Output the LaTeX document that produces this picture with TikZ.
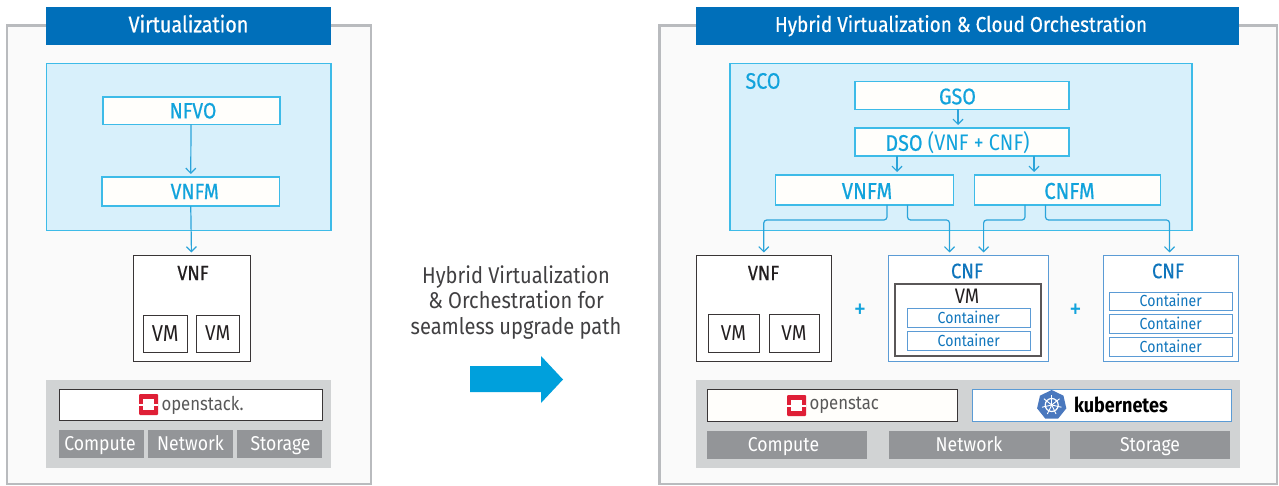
\documentclass[tikz,border=0pt]{standalone}
\usepackage{fontspec}
\setmainfont[FakeStretch=0.88]{Fira Sans}
\usetikzlibrary{arrows.meta,calc}
\definecolor{hdr}{HTML}{006FBA}
\definecolor{sky}{HTML}{D8F0FB}
\definecolor{skyline}{HTML}{3DBBE8}
\definecolor{cyantxt}{HTML}{12A3DC}
\definecolor{bluetxt}{HTML}{0F75BC}
\definecolor{blueline}{HTML}{5B9BD5}
\definecolor{panel}{HTML}{FAFAFA}
\definecolor{panelline}{HTML}{B9BBBE}
\definecolor{stack}{HTML}{D1D3D4}
\definecolor{btn}{HTML}{939598}
\definecolor{ink}{HTML}{231F20}
\definecolor{paper}{HTML}{FFFEFB}
\definecolor{osred}{HTML}{DF1F36}
\definecolor{k8s}{HTML}{4A78BE}
\definecolor{midtxt}{HTML}{414042}
\definecolor{bigarrow}{HTML}{00A0DC}
\newcommand\fsz[1]{\fontsize{#1}{#1}\selectfont}
\newcommand\rbox[7]{\node[base,#2,minimum width={(#5-#3)*1pt},minimum height={(#6-#4)*1pt}] (#1) at ({(#3+#5)/2},{(#4+#6)/2}) {\rule{0pt}{.69em}\smash{#7}};}
\newcommand\oslogo[3]{\begin{scope}[shift={(#2,#3)}]
 \node[base,fill=osred,rounded corners=1pt,minimum width=19pt,minimum height=21pt] (#1) at (9.5,10.5) {};
 \fill[white] (4,4.5) rectangle (15,16);
 \fill[white] (0,9.5) rectangle (4,11.5);
 \fill[white] (15,9.5) rectangle (19,11.5);
\end{scope}}
\tikzset{
 base/.style={draw=none,inner sep=0pt,outer sep=0pt,align=center},
 panelbox/.style={fill=panel,draw=panelline,line width=2.2pt},
 header/.style={fill=hdr,text=white,font=\fsz{22.5}\addfontfeature{FakeBold=0.6}},
 orch/.style={fill=sky,draw=skyline,line width=1.1pt},
 func/.style={fill=paper,draw=skyline,line width=1.2pt,text=cyantxt,font=\fsz{22}\addfontfeature{FakeBold=0.6}},
 blackbox/.style={fill=white,draw=ink!90,line width=.9pt,text=ink},
 bluebox/.style={fill=white,draw=blueline,line width=1pt,text=bluetxt},
 contbox/.style={bluebox,font=\fsz{16}},
 stackbg/.style={fill=stack},
 gbtn/.style={fill=btn,text=white,font=\fsz{20}},
 lbl/.style={inner sep=0pt,outer sep=0pt},
 link/.style={draw=skyline!70!hdr,line width=1.2pt,-{Straight Barb[length=5pt,width=10pt]},shorten >=3pt,rounded corners=3pt},
}
\begin{document}
\begin{tikzpicture}[x=1pt,y=-1pt]
\useasboundingbox (0,0) rectangle (1279,486);
\fill[white] (0,0) rectangle (1279,486);
% left panel
\rbox{leftp}{panelbox}{7}{25.5}{371}{484}{}
\rbox{lefth}{header}{46}{7}{331}{45}{\raisebox{1.5pt}{Virtualization}}
\rbox{lefto}{orch}{46.5}{63.5}{331}{230.5}{}
\rbox{nfvo}{func}{103}{97}{280}{124.5}{\kern3pt NFVO}
\rbox{lvnfm}{func}{102}{177}{279.5}{206}{\kern8pt VNFM}
\draw[link] ([xshift=-.5pt]nfvo.south) -- (lvnfm.north);
\rbox{lvnf}{blackbox}{133}{255.5}{250}{361.5}{}
\node[lbl,text=ink,font=\fsz{20.5}\addfontfeature{FakeBold=0.5}] (lvnft) at (193,273) {VNF};
\draw[link] (lvnfm.south) -- (lvnf.north);
\rbox{lvm1}{blackbox,font=\fsz{23}}{143.5}{315}{187}{352}{VM}
\rbox{lvm2}{blackbox,font=\fsz{21.5}}{196}{315}{239.5}{352}{VM}
\rbox{lstack}{stackbg}{46}{380}{331}{468}{}
\rbox{los}{blackbox}{59}{389}{322}{420.5}{}
\oslogo{loslogo}{139}{394}
\node[lbl,anchor=west,text=black!65,font=\fsz{19}] (lost) at (161.5,405) {openstack.};
\rbox{lb1}{gbtn}{59}{430}{144}{458}{\kern-3pt Compute}
\rbox{lb2}{gbtn}{148}{430}{233}{458}{Network}
\rbox{lb3}{gbtn}{237}{430}{322}{458}{\kern2pt Storage}
% middle
\node[lbl,align=center,text=midtxt,font=\fontsize{22.8}{25.5}\selectfont] (mid) at (516,302.5) {Hybrid Virtualization\\\& Orchestration for\\seamless upgrade path};
\fill[bigarrow] (470,366) -- (541,366) -- (541,356) -- (563,379.5) -- (541,403) -- (541,392) -- (470,392) -- cycle;
% right panel
\rbox{rightp}{panelbox}{659.5}{25.5}{1277}{484}{}
\rbox{righth}{header,font=\fsz{21.5}\addfontfeature{FakeBold=0.6}}{696}{7}{1239}{45}{\raisebox{1.5pt}{\kern-13pt Hybrid Virtualization \& Cloud Orchestration}}
\rbox{sco}{orch}{730}{63.5}{1192}{230.5}{}
\node[lbl,text=cyantxt,font=\fsz{22.4}\addfontfeature{FakeBold=0.4}] (scot) at (763,81) {SCO};
\rbox{gso}{func,font=\fsz{22.5}\addfontfeature{FakeBold=0.6}}{855}{81.5}{1069}{109.5}{\raisebox{-1pt}{\kern-9pt GSO}}
\rbox{dso}{func,font=\fsz{22.5}\addfontfeature{FakeBold=0.6}}{855}{128}{1069}{156}{\raisebox{-1pt}{\kern-9pt DSO {\addfontfeature{FakeBold=0}(VNF + CNF)}}}
\rbox{rvnfm}{func,font=\fsz{23}\addfontfeature{FakeBold=0.6}}{775.5}{175}{953.5}{205}{\raisebox{-1pt}{\kern5pt VNFM}}
\rbox{cnfm}{func,font=\fsz{23}\addfontfeature{FakeBold=0.6}}{974.5}{175}{1160.5}{205}{\raisebox{-1pt}{\kern4pt CNFM}}
\draw[link] ([xshift=-4pt]gso.south) -- ([xshift=-4pt]dso.north);
\draw[link] ([xshift=-65pt]dso.south) -- ([xshift=32.5pt]rvnfm.north);
\draw[link] ([xshift=72pt]dso.south) -- ([xshift=-33.5pt]cnfm.north);
% lower boxes
\rbox{rvnf}{blackbox}{696}{255.5}{831.5}{361.5}{}
\node[lbl,text=ink,font=\fsz{20.5}\addfontfeature{FakeBold=0.5}] (rvnft) at (763.5,273) {VNF};
\rbox{rvm1}{blackbox,font=\fsz{21.5}}{708}{314.5}{759}{352.5}{VM}
\rbox{rvm2}{blackbox,font=\fsz{21.5}}{769}{314.5}{819}{352.5}{VM}
\rbox{cnfa}{bluebox}{888}{255.5}{1048.5}{361.5}{}
\node[lbl,text=bluetxt,font=\fsz{21}\addfontfeature{FakeBold=0.4}] (cnfat) at (967,271) {CNF};
\rbox{vmin}{blackbox,draw=ink!75,line width=1.2pt}{895}{284}{1041}{356}{}
\node[lbl,text=ink,font=\fsz{21}] (vmint) at (967,296) {VM};
\rbox{c1}{contbox}{907.5}{308.5}{1030}{327}{Container}
\rbox{c2}{contbox}{907.5}{331.5}{1030}{350}{Container}
\rbox{cnfb}{bluebox}{1103}{255.5}{1238}{361.5}{}
\node[lbl,text=bluetxt,font=\fsz{21}\addfontfeature{FakeBold=0.4}] (cnfbt) at (1168,271) {CNF};
\rbox{c3}{contbox}{1109.5}{292}{1232}{310.5}{Container}
\rbox{c4}{contbox}{1109.5}{314.5}{1232}{333}{Container}
\rbox{c5}{contbox}{1109.5}{337.5}{1232}{356}{Container}
\node[lbl,text=cyantxt,font=\fsz{28}] (plus1) at (860,311) {+};
\node[lbl,text=cyantxt,font=\fsz{28}] (plus2) at (1075.5,311) {+};
% orchestration links
\draw[link] ([xshift=22.5pt]rvnfm.south) -- ++(0,15) -| (rvnf.north);
\draw[link] ([xshift=43pt]rvnfm.south) -- ++(0,15) -| ([xshift=-18.75pt]cnfa.north);
\draw[link] ([xshift=-42.5pt]cnfm.south) -- ++(0,15) -| ([xshift=15.35pt]cnfa.north);
\draw[link] ([xshift=-22pt]cnfm.south) -- ++(0,15) -| ([xshift=-1pt]cnfb.north);
% stack
\rbox{rstack}{stackbg}{696}{380}{1240}{468}{}
\rbox{ros}{blackbox,fill=paper}{707}{389}{957.5}{421}{}
\oslogo{roslogo}{787}{395}
\node[lbl,anchor=west,text=black!65,font=\fsz{19}] (rost) at (809.5,405.5) {openstac};
\rbox{rk8s}{bluebox}{972.5}{389}{1231}{421}{}
\fill[k8s] (1051.7,390) \foreach \a in {1,...,6} { -- ($(1051.7,405)+({270+\a*360/7}:15)$) } -- cycle;
\draw[white,line width=1.2pt] (1051.7,405) circle (6.5);
\foreach \a in {0,...,6} { \draw[white,line width=.9pt] (1051.7,405) -- ++({270+\a*360/7}:10); }
\node[lbl,anchor=west,text=black,font=\fsz{20.5}\bfseries] (k8st) at (1074,405) {kubernetes};
\rbox{rb1}{gbtn}{706.5}{431}{867}{459}{\kern-6.5pt Compute}
\rbox{rb2}{gbtn}{888.5}{431}{1049.5}{459}{Network}
\rbox{rb3}{gbtn}{1070}{431}{1230}{459}{Storage}
\end{tikzpicture}
\end{document}
